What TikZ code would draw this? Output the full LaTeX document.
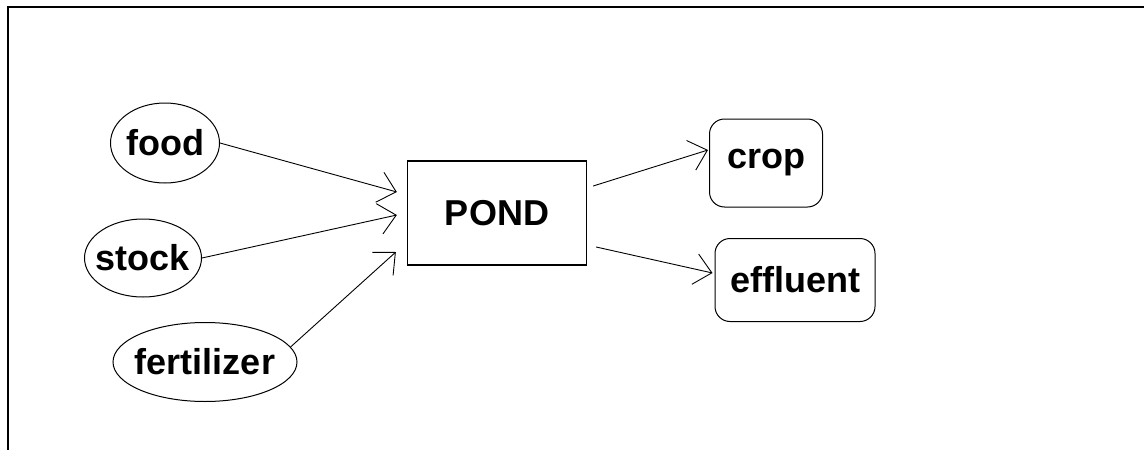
\documentclass[tikz,border=0pt]{standalone}
\usepackage{fontspec}
\setmainfont{Liberation Sans}
\usetikzlibrary{shapes.geometric,arrows.meta}
\tikzstyle{caja}=[draw, line width=1pt, inner sep=0pt,
  font=\bfseries\fontsize{36}{40}\selectfont]
\tikzstyle{insumo}=[caja, ellipse, inner xsep=-10pt]
\tikzstyle{estanque}=[caja, line width=1.3pt, minimum width=179pt,
  minimum height=104pt]
\tikzstyle{salida}=[caja, rounded corners=15pt]
\tikzstyle{line}=[draw, line width=0.9pt,
  -{Straight Barb[length=17pt, width=31pt, line width=0.9pt]}]
\newcommand{\insumo}[4]{node (#1) [insumo, minimum width=#3pt,
  minimum height=#4pt] {#2}}

\begin{document}
\begin{tikzpicture}[x=1pt,y=-1pt]
  \useasboundingbox (0,0) rectangle (1144,450);
  % window edge
  \draw[line width=2pt] (8,450) -- (8,7) -- (1144,7);

  % Draw diagram elements
  \node (pond) [estanque] at (497,213) {POND};

  \path (pond)+(-332,-70) \insumo{food}{food}{109}{80};
  \path (pond)+(-354,45) \insumo{stock}{stock}{117}{78};
  \path (pond)+(-292,149) \insumo{fert}{fertilizer}{184}{79};

  \path (pond)+(269,-50) node (crop) [salida, minimum width=113pt,
    minimum height=88pt] {crop};
  \path (pond)+(298,67) node (effl) [salida, minimum width=160pt,
    minimum height=83pt] {effluent};

  % Draw arrows between elements
  \path [line] (food.east) -- ([shift={(-10,-21)}]pond.west);
  \path [line] (stock.east) -- ([shift={(-10,2)}]pond.west);
  \path [line] (fert.10) -- ([shift={(-11,39)}]pond.west);

  \path [line] ([shift={(6,-27)}]pond.east) -- ([shift={(-1,-13)}]crop.west);
  \path [line] ([shift={(9,34)}]pond.east) -- ([shift={(-2,-7)}]effl.west);
\end{tikzpicture}
\end{document}
